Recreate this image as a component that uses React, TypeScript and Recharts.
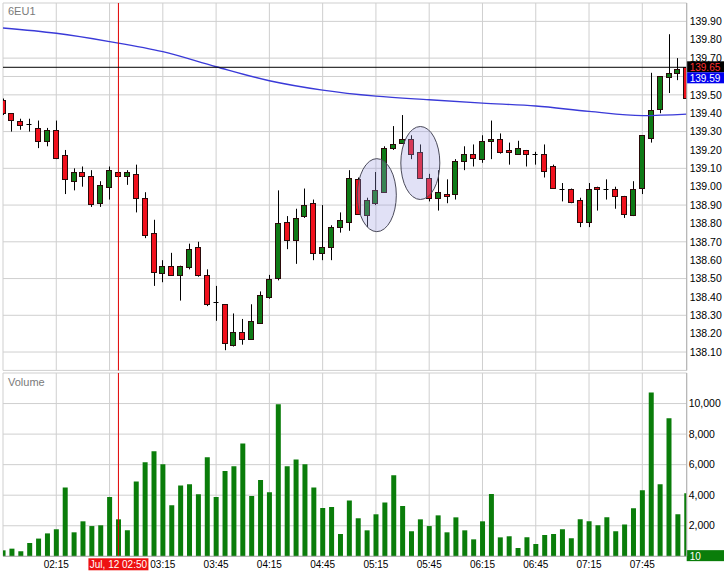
import React from "react";
import {
  Bar,
  CartesianGrid,
  ComposedChart,
  Line,
  ReferenceDot,
  ReferenceLine,
  XAxis,
  YAxis,
} from "recharts";

// 5-minute bars, index 0 = 01:45 ... index 77 = 08:10
const opens = [
  139.47, 139.4, 139.36, 139.34, 139.32, 139.25, 139.31, 139.17, 139.03, 139.08,
  139.06, 138.91, 139.0, 139.08, 139.06, 139.07, 138.94, 138.75, 138.53, 138.57,
  138.52, 138.56, 138.67, 138.52, 138.37, 138.36, 138.14, 138.21, 138.17, 138.26,
  138.4, 138.5, 138.81, 138.71, 138.84, 138.91, 138.64, 138.67, 138.78, 138.81,
  139.04, 138.85, 138.91, 138.97, 139.21, 139.24, 139.26, 139.19, 139.05, 138.94,
  138.96, 138.96, 139.14, 139.18, 139.15, 139.25, 139.26, 139.2, 139.18, 139.2,
  139.18, 139.18, 139.11, 138.99, 138.99, 138.93, 138.81, 139.0, 138.99, 138.99,
  138.95, 138.85, 138.99, 139.27, 139.42, 139.6, 139.62, 139.65,
];
const highs = [
  139.48, 139.4, 139.37, 139.37, 139.36, 139.32, 139.36, 139.2, 139.1, 139.11,
  139.09, 139.03, 139.11, 139.09, 139.09, 139.12, 138.97, 138.82, 138.6, 138.64,
  138.57, 138.69, 138.7, 138.55, 138.46, 138.36, 138.31, 138.28, 138.36, 138.43,
  138.52, 138.98, 138.84, 138.88, 138.99, 138.93, 138.9, 138.79, 138.86, 139.09,
  139.05, 138.94, 139.08, 139.22, 139.33, 139.39, 139.28, 139.23, 139.07, 139.09,
  139.04, 139.15, 139.22, 139.23, 139.28, 139.36, 139.29, 139.24, 139.25, 139.2,
  139.19, 139.23, 139.12, 139.02, 138.99, 138.94, 139.02, 139.0, 139.04, 139.0,
  138.95, 139.03, 139.28, 139.62, 139.6, 139.83, 139.7, 139.65,
];
const lows = [
  139.39, 139.3, 139.31, 139.3, 139.21, 139.22, 139.15, 138.96, 138.98, 139.0,
  138.89, 138.89, 138.93, 139.05, 139.01, 138.86, 138.72, 138.46, 138.48, 138.52,
  138.38, 138.55, 138.51, 138.35, 138.27, 138.11, 138.13, 138.14, 138.17, 138.26,
  138.39, 138.49, 138.66, 138.58, 138.83, 138.6, 138.6, 138.6, 138.75, 138.76,
  138.85, 138.78, 138.9, 138.97, 139.2, 139.24, 139.15, 139.05, 138.92, 138.87,
  138.91, 138.93, 139.09, 139.11, 139.13, 139.15, 139.18, 139.12, 139.18, 139.11,
  139.12, 139.05, 138.99, 138.92, 138.91, 138.78, 138.78, 138.87, 138.93, 138.88,
  138.83, 138.84, 138.96, 139.24, 139.4, 139.51, 139.58, 139.48,
];
const closes = [
  139.4, 139.36, 139.34, 139.34, 139.25, 139.31, 139.16, 139.04, 139.08, 139.06,
  138.91, 139.01, 139.09, 139.06, 139.08, 138.94, 138.74, 138.54, 138.57, 138.52,
  138.57, 138.66, 138.52, 138.36, 138.37, 138.15, 138.21, 138.17, 138.27, 138.41,
  138.5, 138.8, 138.71, 138.83, 138.9, 138.64, 138.67, 138.78, 138.82, 139.05,
  138.85, 138.93, 138.98, 139.21, 139.23, 139.26, 139.18, 139.05, 138.94, 138.97,
  138.95, 139.14, 139.18, 139.16, 139.25, 139.26, 139.19, 139.19, 139.21, 139.18,
  139.18, 139.09, 138.99, 138.99, 138.92, 138.81, 138.99, 138.99, 138.99, 138.95,
  138.85, 138.99, 139.28, 139.42, 139.6, 139.62, 139.64, 139.48,
];
const volumes = [
  390, 500, 330, 870, 1160, 1500, 1770, 4510, 1570, 2290,
  1980, 2030, 3880, 2420, 1700, 4900, 6150, 6870, 6020, 3340,
  4640, 4710, 4060, 6480, 3880, 5580, 5890, 7390, 3950, 4990,
  4190, 9960, 5890, 6340, 6020, 4510, 3160, 3230, 1460, 3660,
  2490, 1700, 2750, 3530, 5300, 3290, 1640, 2420, 1980, 2680,
  1570, 2550, 1700, 1110, 2290, 4080, 1240, 1310, 550, 1240,
  810, 1400, 1460, 1770, 1180, 2420, 2290, 2030, 2550, 1640,
  2090, 3140, 4320, 10730, 4710, 9030, 2750, 4120,
];

// moving average read at the grid bars
const maIdx = [0, 6, 12, 18, 24, 30, 36, 42, 48, 54, 60, 66, 72, 77];
const maVal = [
  139.864, 139.835, 139.79, 139.735, 139.653, 139.577, 139.526, 139.493,
  139.473, 139.455, 139.439, 139.41, 139.387, 139.395,
];

const timeTicks = [0, 6, 12, 18, 24, 30, 36, 42, 48, 54, 60, 66, 72];
const timeLabels = ["", "02:15", "02:45", "03:15", "03:45", "04:15", "04:45", "05:15", "05:45", "06:15", "06:45", "07:15", "07:45"];
const priceTicks = [
  138.0, 138.1, 138.2, 138.3, 138.4, 138.5, 138.6, 138.7, 138.8, 138.9, 139.0,
  139.1, 139.2, 139.3, 139.4, 139.5, 139.6, 139.7, 139.8, 139.9, 140.0,
];
const volumeTicks = [0, 2000, 4000, 6000, 8000, 10000, 12000];

const cursorIdx = 13;
const cursorLabel = "Jul, 12 02:50";
const lastPrice = 139.65;
const maLabel = 139.59;
const lastVolume = 10;
// circled candle groups: [bar index, price]
const circles = [
  [42.1, 138.954],
  [47.0, 139.129],
];

const rows = opens.map((o, i) => {
  const k = maIdx.indexOf(i);
  return {
    i,
    o,
    h: highs[i],
    l: lows[i],
    c: closes[i],
    range: [lows[i], highs[i]],
    vol: volumes[i],
    ma: k >= 0 ? maVal[k] : null,
  };
});

const RED = "#f0101c";
const GREEN = "#0e7a16";
const GRID = "#cfcfcf";
const FONT = "'Liberation Sans', Arial, sans-serif";

function Candle(props: any) {
  const { x, y, width, height, payload } = props;
  const { o, h, l, c } = payload;
  const k = h > l ? height / (h - l) : 0;
  const py = (v: number) => y + (h - v) * k;
  const cx = Math.round(x + width / 2) + 0.5;
  const left = Math.round(x) + 0.5;
  const w = Math.round(width) - 1;
  const top = py(Math.max(o, c));
  const bot = py(Math.min(o, c));
  return (
    <g>
      <line x1={cx} x2={cx} y1={y} y2={y + height} stroke="#000" strokeWidth={1} />
      {o === c ? (
        <line x1={left} x2={left + w} y1={Math.round(top) + 0.5} y2={Math.round(top) + 0.5} stroke="#000" />
      ) : (
        <rect
          x={left}
          y={Math.round(top) + 0.5}
          width={w}
          height={Math.max(Math.round(bot - top), 1)}
          fill={c > o ? GREEN : RED}
          stroke="#2a0a0a"
          strokeWidth={1}
        />
      )}
    </g>
  );
}

const boxLabel = (text: string, bg: string, fg: string) => (props: any) => {
  const vb = props.viewBox;
  const x = vb.x + vb.width;
  return (
    <g>
      <rect x={x} y={vb.y - 6} width={40} height={11} fill={bg} />
      <text x={x + 3} y={vb.y + 3.5} fill={fg} fontSize={10} fontFamily={FONT}>
        {text}
      </text>
    </g>
  );
};

const timeBox = (props: any) => {
  const vb = props.viewBox;
  const cx = vb.x;
  const y = vb.y + vb.height + 2;
  return (
    <g>
      <rect x={cx - 30} y={y} width={60} height={12} fill="#ee1111" />
      <text x={cx} y={y + 10} fill="#fff" fontSize={10} textAnchor="middle" fontFamily={FONT}>
        {cursorLabel}
      </text>
    </g>
  );
};

const ellipse = (props: any) => (
  <ellipse
    cx={props.cx}
    cy={props.cy}
    rx={19.5}
    ry={36.5}
    fill="#9a9ae0"
    fillOpacity={0.3}
    stroke="#4a4a5a"
    strokeWidth={1}
  />
);

function TimeTick(props: any) {
  const { x, y, payload } = props;
  const k = timeTicks.indexOf(payload.value);
  const label = k >= 0 ? timeLabels[k] : "";
  if (!label || Math.abs(payload.value - cursorIdx) < 3) return null;
  return (
    <text x={x} y={y + 10} fontSize={10} textAnchor="middle" fill="#000" fontFamily={FONT}>
      {label}
    </text>
  );
}

// price tick labels, except where the price boxes cover them
const priceTickLabel = (v: number) => {
  if (v <= 138 || v >= 140) return "";
  if (Math.abs(v - maLabel) < 0.03) return "";
  return v.toFixed(2);
};

export default function App() {
  return (
    <div
      style={{
        position: "absolute",
        left: 0,
        top: 0,
        width: 724,
        height: 586,
        background: "#fff",
        overflow: "hidden",
        fontFamily: FONT,
      }}
    >
      <div style={{ position: "absolute", left: 0, top: 0 }}>
        <ComposedChart
          width={724}
          height={372}
          data={rows}
          margin={{ top: 3, right: 0, bottom: 1.6, left: 3 }}
        >
          <CartesianGrid stroke={GRID} />
          <XAxis
            dataKey="i"
            type="number"
            domain={[0, 77]}
            ticks={timeTicks}
            allowDataOverflow
            hide
          />
          <YAxis
            orientation="right"
            type="number"
            domain={[138, 140]}
            ticks={priceTicks}
            allowDataOverflow
            width={37.3}
            tickLine={false}
            tickSize={3}
            tickMargin={0}
            axisLine={{ stroke: "#b0b0b0" }}
            tick={{ fontSize: 10.5, fill: "#000", fontFamily: FONT }}
            tickFormatter={priceTickLabel}
          />
          <Line
            dataKey="ma"
            type="monotone"
            connectNulls
            stroke="#3a3ad8"
            strokeWidth={1.4}
            dot={false}
            isAnimationActive={false}
          />
          <Bar dataKey="range" barSize={6} shape={<Candle />} isAnimationActive={false} />
          {circles.map(([cx, cy], k) => (
            <ReferenceDot key={k} x={cx} y={cy} r={20} shape={ellipse} />
          ))}
          <ReferenceLine x={cursorIdx} stroke="#e00000" strokeWidth={1} />
          <ReferenceLine y={lastPrice} stroke="#000" strokeWidth={1} label={boxLabel(lastPrice.toFixed(2), "#000", "#ff3030")} />
          <ReferenceLine y={maLabel} strokeOpacity={0} label={boxLabel(maLabel.toFixed(2), "#0000ee", "#fff")} />
        </ComposedChart>
      </div>
      <div style={{ position: "absolute", left: 8, top: 5, fontSize: 11, color: "#7a7a7a" }}>6EU1</div>

      <div style={{ position: "absolute", left: 0, top: 372 }}>
        <ComposedChart
          width={724}
          height={214}
          data={rows}
          margin={{ top: 1, right: 0, bottom: 0, left: 3 }}
        >
          <CartesianGrid stroke={GRID} />
          <XAxis
            dataKey="i"
            type="number"
            domain={[0, 77]}
            ticks={timeTicks}
            allowDataOverflow
            height={29.7}
            tickLine={false}
            tickSize={0}
            axisLine={{ stroke: "#b0b0b0" }}
            tick={<TimeTick />}
          />
          <YAxis
            orientation="right"
            type="number"
            domain={[0, 12000]}
            ticks={volumeTicks}
            width={37.3}
            tickLine={false}
            tickSize={2}
            tickMargin={0}
            axisLine={{ stroke: "#b0b0b0" }}
            tick={{ fontSize: 10.5, fill: "#000", fontFamily: FONT }}
            tickFormatter={(v: number) => (v <= 0 || v >= 12000 ? "" : v.toLocaleString("en-US"))}
          />
          <Bar dataKey="vol" barSize={5} fill="#0a7d0a" isAnimationActive={false} />
          <ReferenceLine x={cursorIdx} stroke="#e00000" strokeWidth={1} label={timeBox} />
          <ReferenceLine y={lastVolume} strokeOpacity={0} label={boxLabel(String(lastVolume), "#0a7d0a", "#fff")} />
        </ComposedChart>
      </div>
      <div style={{ position: "absolute", left: 8, top: 376, fontSize: 11, color: "#7a7a7a" }}>Volume</div>
    </div>
  );
}
